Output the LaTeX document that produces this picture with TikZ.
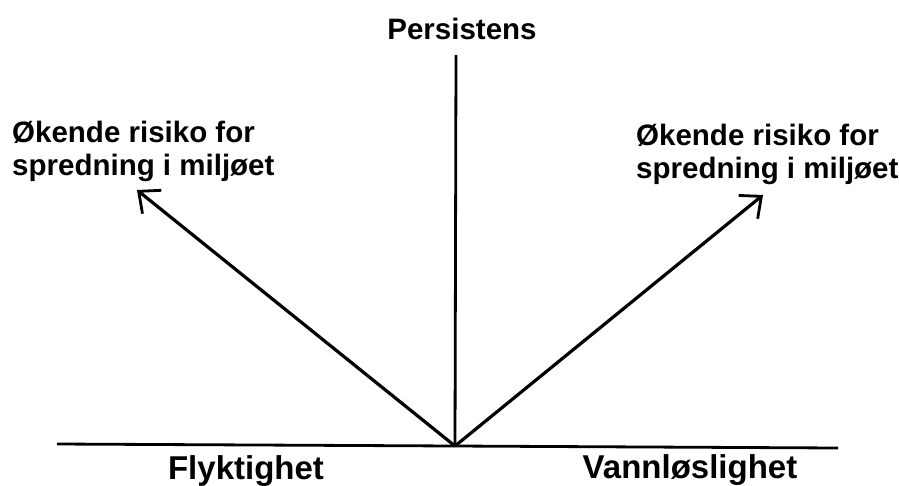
\documentclass[tikz,border=0pt]{standalone}
\usepackage{fontspec}
\setmainfont{Liberation Sans}
\usepackage{tikz}
\usetikzlibrary{arrows.meta,positioning}

\begin{document}
\begin{tikzpicture}[
    x=1pt, y=-1pt,
    lbl/.style={
      font=\fontsize{29.5}{33}\selectfont\bfseries, inner sep=0pt,
      align=left
    },
    axlbl/.style={lbl, font=\fontsize{33}{36}\selectfont\bfseries},
    axis/.style={line width=2.8pt},
    arr/.style={-{Straight Barb[length=17pt, width=30pt, line width=2.8pt]}, line width=3.2pt}
  ]
    \useasboundingbox (0,0) rectangle (899,485);

    % axes
    \coordinate (o) at (455,446);
    \coordinate (top) at (456,55);
    \coordinate (left) at (57,444);
    \coordinate (right) at (838,448);
    \draw[axis] (left) -- (o) -- (right);
    \draw[axis] (o) -- (top);

    \node[lbl] (persist) at (462,29) {Persistens};
    \node[axlbl, anchor=north] (flykt) at (246,455) {Flyktighet};
    \node[axlbl, anchor=north] (vann) at (690,454) {Vannløslighet};

    % risk arrows
    \node[lbl, anchor=north west] (riskL) at (12,121) {Økende risiko for\\spredning i miljøet};
    \node[lbl, anchor=north west] (riskR) at (636,124) {Økende risiko for\\spredning i miljøet};
    \coordinate (tipL) at (137,190);
    \coordinate (tipR) at (763,195);
    \draw[arr] (o) -- (tipL);
    \draw[arr] (o) -- (tipR);
  \end{tikzpicture}
\end{document}
